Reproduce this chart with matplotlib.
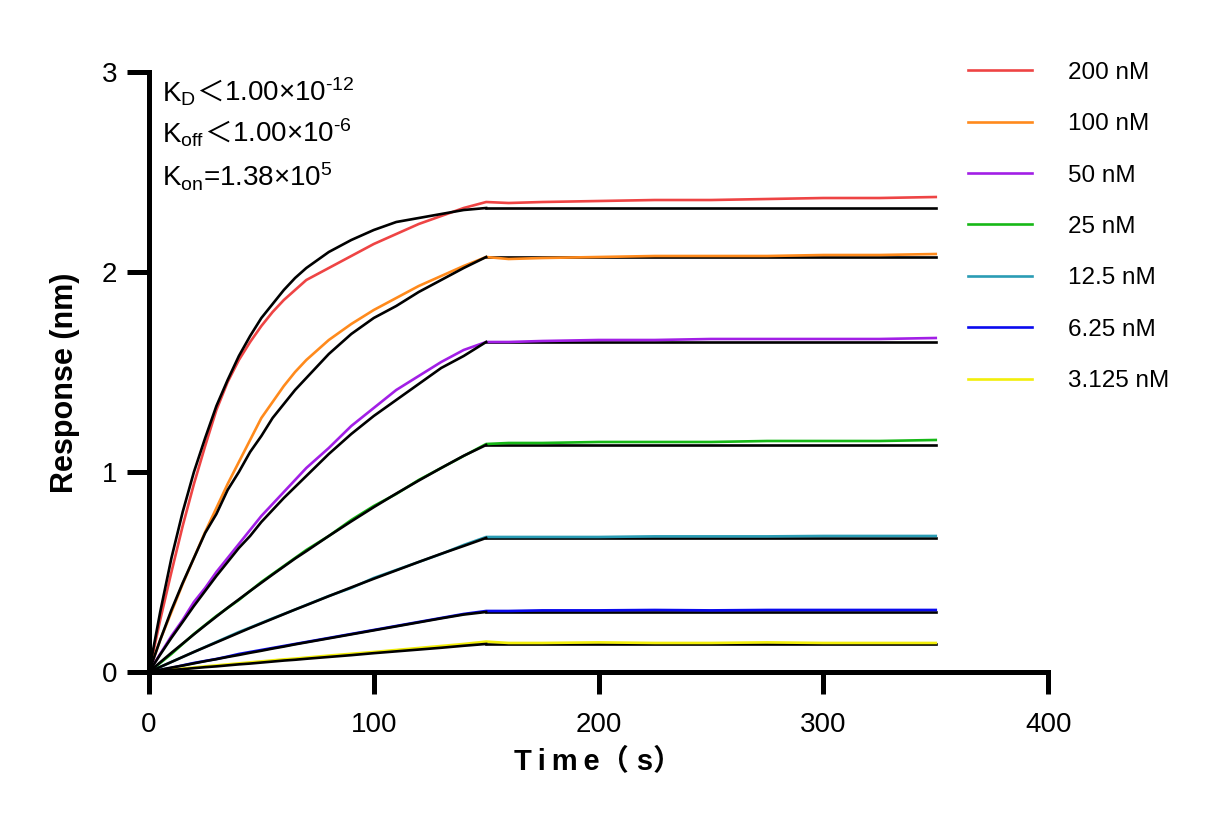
import matplotlib
matplotlib.use('Agg')
import matplotlib.pyplot as plt
from matplotlib.offsetbox import TextArea, HPacker, VPacker, AnchoredOffsetbox

# data
t_assoc = [0, 5, 10, 15, 20, 25, 30, 35, 40, 45, 50, 55, 60, 65, 70, 80, 90, 100, 110, 120, 130, 140, 150]
t_dissoc = [150, 160, 175, 200, 225, 250, 275, 300, 325, 350]
t_fit_dissoc = [150, 350]

labels = ['200 nM', '100 nM', '50 nM', '25 nM', '12.5 nM', '6.25 nM', '3.125 nM']
colors = ['#EE4444', '#FF8A1C', '#A21FE6', '#17B817', '#2A9CB4', '#0A0AEE', '#F2EE0A']

# measured association (coloured)
assoc = [
    [0, 0.26, 0.50, 0.73, 0.94, 1.13, 1.31, 1.45, 1.56, 1.65, 1.73, 1.80, 1.86, 1.91, 1.96, 2.02, 2.08, 2.14, 2.19, 2.24, 2.28, 2.32, 2.35],
    [0, 0.16, 0.30, 0.44, 0.57, 0.70, 0.82, 0.94, 1.05, 1.16, 1.27, 1.35, 1.43, 1.50, 1.56, 1.66, 1.74, 1.81, 1.87, 1.93, 1.98, 2.03, 2.075],
    [0, 0.09, 0.18, 0.26, 0.35, 0.42, 0.50, 0.57, 0.64, 0.71, 0.78, 0.84, 0.90, 0.96, 1.02, 1.12, 1.23, 1.32, 1.41, 1.48, 1.55, 1.61, 1.65],
    [0, 0.045, 0.09, 0.14, 0.19, 0.235, 0.28, 0.32, 0.36, 0.405, 0.45, 0.49, 0.53, 0.57, 0.61, 0.68, 0.76, 0.83, 0.89, 0.96, 1.02, 1.08, 1.14],
    [0, 0.025, 0.05, 0.075, 0.10, 0.125, 0.15, 0.175, 0.20, 0.222, 0.245, 0.268, 0.29, 0.312, 0.335, 0.38, 0.42, 0.47, 0.51, 0.55, 0.59, 0.635, 0.675],
    [0, 0.01, 0.02, 0.033, 0.045, 0.055, 0.065, 0.077, 0.09, 0.10, 0.11, 0.12, 0.13, 0.14, 0.15, 0.17, 0.19, 0.21, 0.23, 0.25, 0.27, 0.29, 0.305],
    [0, 0.006, 0.012, 0.017, 0.022, 0.028, 0.033, 0.038, 0.043, 0.048, 0.053, 0.058, 0.063, 0.067, 0.072, 0.082, 0.091, 0.10, 0.11, 0.12, 0.13, 0.14, 0.152],
]
# measured dissociation (coloured)
dissoc = [
    [2.35, 2.345, 2.35, 2.355, 2.36, 2.36, 2.365, 2.37, 2.37, 2.375],
    [2.075, 2.065, 2.07, 2.075, 2.08, 2.08, 2.08, 2.085, 2.085, 2.09],
    [1.65, 1.65, 1.655, 1.66, 1.66, 1.665, 1.665, 1.665, 1.665, 1.67],
    [1.14, 1.145, 1.145, 1.15, 1.15, 1.15, 1.155, 1.155, 1.155, 1.16],
    [0.675, 0.675, 0.675, 0.675, 0.678, 0.678, 0.678, 0.68, 0.68, 0.68],
    [0.305, 0.305, 0.308, 0.308, 0.31, 0.308, 0.31, 0.31, 0.31, 0.31],
    [0.152, 0.145, 0.145, 0.148, 0.145, 0.145, 0.148, 0.145, 0.145, 0.145],
]
# fitted curves (black)
fit_assoc = [
    [0, 0.30, 0.57, 0.80, 1.00, 1.17, 1.33, 1.46, 1.58, 1.68, 1.77, 1.84, 1.91, 1.97, 2.02, 2.10, 2.16, 2.21, 2.25, 2.27, 2.29, 2.31, 2.32],
    [0, 0.16, 0.31, 0.445, 0.57, 0.695, 0.79, 0.91, 1.00, 1.10, 1.18, 1.27, 1.34, 1.41, 1.47, 1.59, 1.69, 1.77, 1.83, 1.90, 1.96, 2.02, 2.075],
    [0, 0.087, 0.171, 0.25, 0.33, 0.405, 0.48, 0.55, 0.62, 0.68, 0.75, 0.81, 0.87, 0.925, 0.98, 1.09, 1.19, 1.28, 1.36, 1.44, 1.52, 1.58, 1.65],
    [0, 0.048, 0.096, 0.142, 0.188, 0.233, 0.277, 0.321, 0.363, 0.405, 0.446, 0.487, 0.527, 0.567, 0.604, 0.68, 0.753, 0.824, 0.892, 0.957, 1.02, 1.081, 1.135],
    [0, 0.025, 0.05, 0.075, 0.10, 0.124, 0.148, 0.172, 0.196, 0.22, 0.243, 0.266, 0.289, 0.312, 0.334, 0.379, 0.423, 0.466, 0.508, 0.55, 0.591, 0.63, 0.67],
    [0, 0.011, 0.022, 0.032, 0.043, 0.054, 0.064, 0.075, 0.085, 0.096, 0.106, 0.117, 0.127, 0.138, 0.148, 0.168, 0.188, 0.208, 0.228, 0.248, 0.268, 0.287, 0.30],
    [0, 0.005, 0.01, 0.014, 0.019, 0.024, 0.028, 0.033, 0.038, 0.042, 0.047, 0.052, 0.057, 0.061, 0.066, 0.075, 0.084, 0.094, 0.103, 0.112, 0.121, 0.131, 0.14],
]
fit_plateau = [2.32, 2.075, 1.65, 1.135, 0.67, 0.30, 0.14]

plt.rcParams['font.family'] = ['Liberation Sans', 'Noto Sans CJK SC', 'DejaVu Sans']
plt.rcParams['mathtext.fontset'] = 'custom'
plt.rcParams['mathtext.rm'] = 'Liberation Sans'
plt.rcParams['mathtext.it'] = 'Liberation Sans'

fig = plt.figure(figsize=(12.13, 8.25), dpi=100)
ax = fig.add_axes([0.1228, 0.1855, 0.7413, 0.7272])

for i in range(len(labels)):
    ax.plot(t_assoc + t_dissoc[1:], assoc[i] + dissoc[i][1:], color=colors[i], lw=1.9, label=labels[i], zorder=2)
for i in range(len(labels)):
    ax.plot(t_assoc, fit_assoc[i], color='black', lw=1.9, zorder=3)
    ax.plot(t_fit_dissoc, [fit_plateau[i]] * 2, color='black', lw=1.9, zorder=1.5)

ax.set_xlim(0, 400)
ax.set_ylim(0, 3)
ax.set_xticks([0, 100, 200, 300, 400])
ax.set_yticks([0, 1, 2, 3])
for s in ['top', 'right']:
    ax.spines[s].set_visible(False)
for s in ['left', 'bottom']:
    ax.spines[s].set_linewidth(3.6)
ax.tick_params(length=16, width=3.6, labelsize=20)
ax.tick_params(axis='x', pad=13)
ax.tick_params(axis='y', pad=7)

ax.set_xlabel('T\u2009i\u2009m\u2009e（ s）', fontsize=21, fontweight='bold', labelpad=7)
ax.set_ylabel('Response (nm)', fontsize=22, fontweight='bold')
ax.yaxis.set_label_coords(-0.077, 0.482)

# kinetic constants, built from pieces so the wide "＜" can come from a CJK font
fs = 20
lt = dict(fontsize=fs, fontfamily=['Noto Sans CJK SC'])
rows = [
    [TextArea(r'K$_\mathrm{D}$', textprops=dict(fontsize=fs)),
     TextArea('＜', textprops=lt),
     TextArea(r'1.00×10$^\text{-12}$', textprops=dict(fontsize=fs))],
    [TextArea(r'K$_\mathrm{off}$', textprops=dict(fontsize=fs)),
     TextArea('＜', textprops=lt),
     TextArea(r'1.00×10$^\text{-6}$', textprops=dict(fontsize=fs))],
    [TextArea(r'K$_\mathrm{on}$=1.38×10$^\text{5}$', textprops=dict(fontsize=fs))],
]
box = VPacker(children=[HPacker(children=r, align='baseline', pad=0, sep=0) for r in rows],
              align='left', pad=0, sep=8)
ab = AnchoredOffsetbox(loc='upper left', child=box, frameon=False, pad=0, borderpad=0,
                       bbox_to_anchor=(162 / 1213, 1 - 78 / 825), bbox_transform=fig.transFigure)
ax.add_artist(ab)

ax.legend(loc='upper left', bbox_to_anchor=(958 / 1213, 1 - 52 / 825), bbox_transform=fig.transFigure,
          frameon=False, fontsize=17.5, borderaxespad=0,
          handlelength=2.63, handletextpad=1.48, labelspacing=1.21)

plt.savefig('out.png', dpi=100)
